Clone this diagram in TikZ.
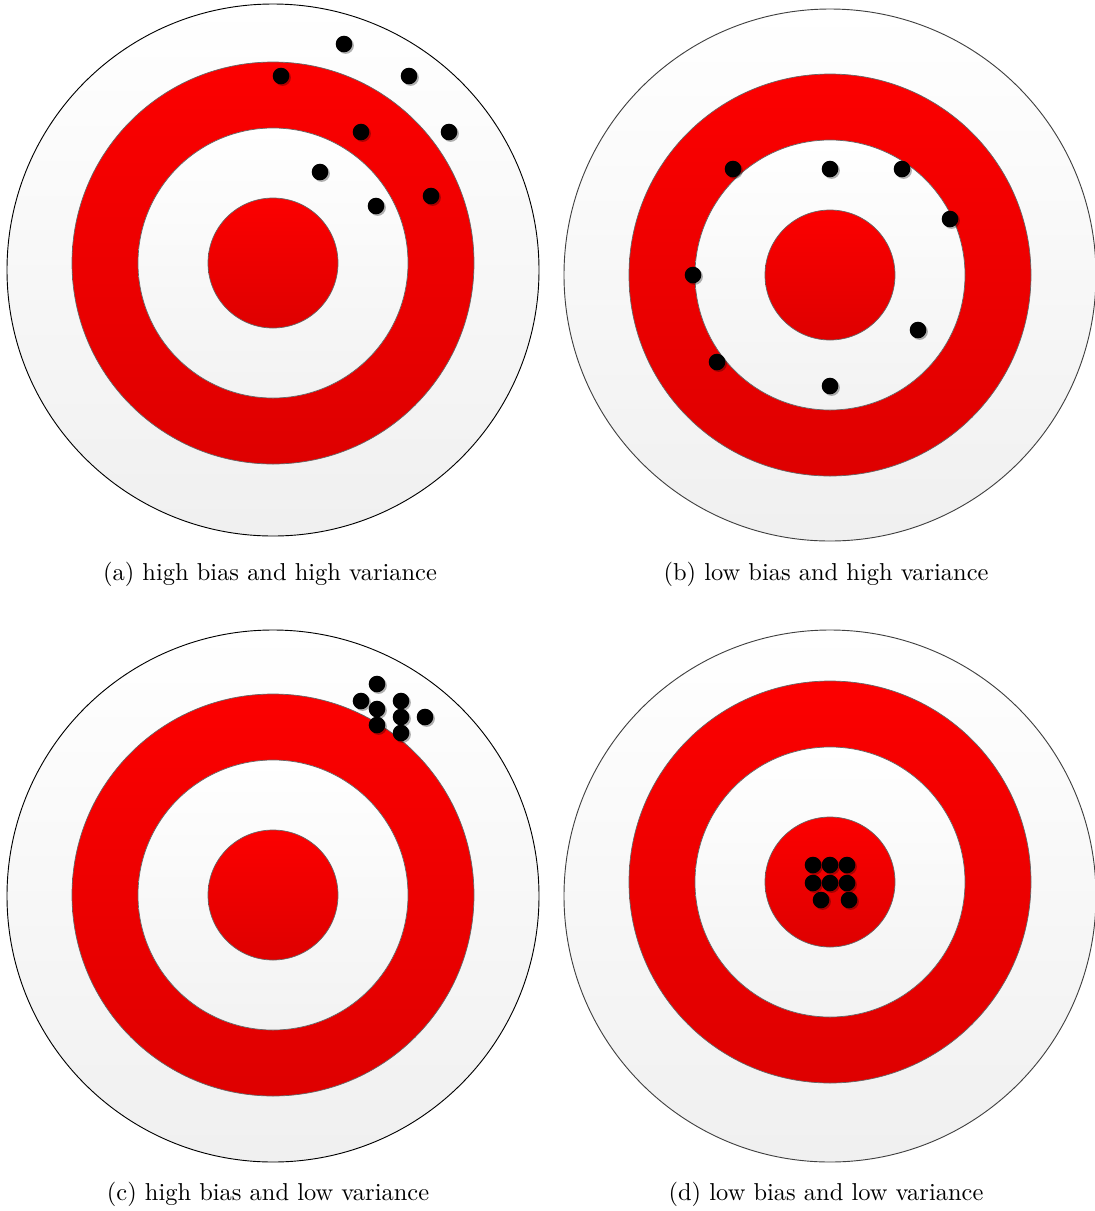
\documentclass[tikz,border=0pt]{standalone}
\usepackage{xcolor}
\usepackage{tikz}
\usetikzlibrary{positioning}
\definecolor{tgtred}{RGB}{252,0,0}
\definecolor{tgtreddk}{RGB}{222,0,0}
\tikzset{
  face/.style     ={top color=white, bottom color=black!6, draw=black, line width=0.4pt},
  faceb/.style    ={face, draw=black!75},
  redring/.style  ={top color=tgtred, bottom color=tgtreddk, draw=black!60, line width=0.3pt},
  whitering/.style={top color=white, bottom color=black!5, draw=black!60, line width=0.3pt},
  hole/.style     ={fill=black},
  holeshade/.style={fill=black, opacity=0.3},
  capt/.style     ={font=\fontsize{10.65}{12.8}\selectfont, inner sep=0pt},
}
% outer centre (#1,#2), rings centre (#3,#4), face style #5
\newcommand{\drawtarget}[5]{%
  \shade[#5]        (#1,#2) circle[radius=266];
  \shade[redring]   (#3,#4) circle[radius=201];
  \shade[whitering] (#3,#4) circle[radius=135];
  \shade[redring]   (#3,#4) circle[radius=65];
}
\newcommand{\shothole}[2]{%
  \fill[holeshade] (#1+1.6,#2+1.6) circle[radius=8.3];
  \fill[hole]      (#1,#2) circle[radius=8.3];
}

\begin{document}
\begin{tikzpicture}[x=0.0153cm, y=-0.0153cm]
  \useasboundingbox (0,0) rectangle (1095,1211);

  % four targets
  \drawtarget{273}{270}{273}{263}{face}
  \drawtarget{830}{275}{830}{275}{faceb}
  \drawtarget{273}{896}{273}{895}{face}
  \drawtarget{830}{896}{830}{882}{faceb}

  % (a) spread, off centre
  \foreach \x/\y in {344/44, 281/76, 409/76, 361/132, 449/132, 320/172, 376/206, 431/196}
    {\shothole{\x}{\y}}
  % (b) spread, round the centre
  \foreach \x/\y in {733/169, 830/169, 902/169, 950/219, 693/275, 918/330, 717/362, 830/386}
    {\shothole{\x}{\y}}
  % (c) tight, off centre
  \foreach \x/\y in {377/684, 361/701, 401/701, 377/709, 401/717, 425/717, 377/725, 401/733}
    {\shothole{\x}{\y}}
  % (d) tight, on centre
  \foreach \x/\y in {813/865, 830/865, 847/865, 813/883, 830/883, 847/883, 821/900, 849/900}
    {\shothole{\x}{\y}}

  % captions
  \node[capt] (capa) at (270,574)  {(a) high bias and high variance};
  \node[capt] (capb) at (826,574)  {(b) low bias and high variance};
  \node[capt] (capc) at (268,1194) {(c) high bias and low variance};
  \node[capt] (capd) at (826,1194) {(d) low bias and low variance};
\end{tikzpicture}
\end{document}
